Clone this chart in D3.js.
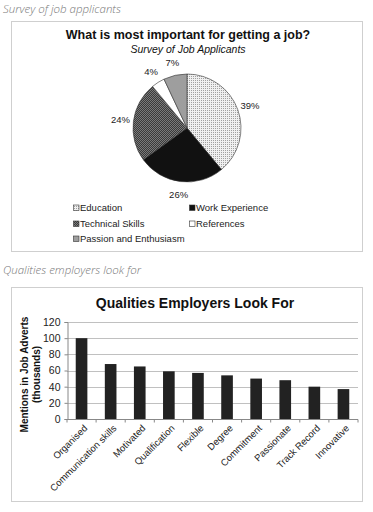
<!DOCTYPE html>
<html><head><meta charset="utf-8">
<script src="https://cdn.jsdelivr.net/npm/d3@7"></script>
<style>
body{margin:0;background:#fff;}
svg{display:block;}
</style></head><body>
<svg id="c" width="373" height="512"></svg>
<script>
const pieCategories = ["Education","Work Experience","Technical Skills","References","Passion and Enthusiasm"];
const pieValues = [39,26,24,4,7];
const barCategories = ["Organised","Communication skills","Motivated","Qualification","Flexible","Degree","Commitment","Passionate","Track Record","Innovative"];
const barValues = [100,68,65,59,57,54,50,48,40,37];
const yTicks = [0,20,40,60,80,100,120];

const svg = d3.select("#c");
const defs = svg.append("defs");
// patterns
const pEdu = defs.append("pattern").attr("id","pEdu").attr("width",2).attr("height",2).attr("patternUnits","userSpaceOnUse");
pEdu.append("rect").attr("width",2).attr("height",2).attr("fill","#f0f0f0");
pEdu.append("rect").attr("width",1).attr("height",1).attr("fill","#a0a0a0");
const pTech = defs.append("pattern").attr("id","pTech").attr("width",2).attr("height",2).attr("patternUnits","userSpaceOnUse");
pTech.append("rect").attr("width",2).attr("height",2).attr("fill","#7a7a7a");
pTech.append("rect").attr("width",1).attr("height",1).attr("fill","#3a3a3a");
pTech.append("rect").attr("x",1).attr("y",1).attr("width",1).attr("height",1).attr("fill","#3a3a3a");
const fills = ["url(#pEdu)","#111","url(#pTech)","#fff","#9e9e9e"];

const font = "Arial, 'Liberation Sans', sans-serif";
const capFont = "'Open Sans', sans-serif";

// captions
svg.append("text").attr("x",3).attr("y",12.5).attr("font-family",capFont).attr("font-style","italic").attr("font-weight",300)
  .attr("font-size",11.5).attr("fill","#777").text("Survey of job applicants");
svg.append("text").attr("x",3).attr("y",274).attr("font-family",capFont).attr("font-style","italic").attr("font-weight",300)
  .attr("font-size",11.5).attr("fill","#777").text("Qualities employers look for");

// pie box
svg.append("rect").attr("x",11.5).attr("y",21.5).attr("width",351).attr("height",230).attr("fill","#fff").attr("stroke","#cfcfcf");
svg.append("text").attr("x",188).attr("y",39).attr("text-anchor","middle").attr("font-family",font).attr("font-weight","bold")
  .attr("font-size",12.5).attr("fill","#111").text("What is most important for getting a job?");
svg.append("text").attr("x",188).attr("y",52.5).attr("text-anchor","middle").attr("font-family",font).attr("font-style","italic")
  .attr("font-size",10.5).attr("fill","#111").text("Survey of Job Applicants");

const cx = 187, cy = 128, R = 54;
const pie = d3.pie().sort(null).value(d=>d)(pieValues);
const arc = d3.arc().innerRadius(0).outerRadius(R);
const labelArc = d3.arc().innerRadius(67).outerRadius(67);
const g = svg.append("g").attr("transform",`translate(${cx},${cy})`);
g.selectAll("path").data(pie).join("path").attr("d",arc).attr("fill",(d,i)=>fills[i]).attr("stroke","#333").attr("stroke-width",0.6);
g.selectAll("text").data(pie).join("text")
  .attr("transform",d=>`translate(${labelArc.centroid(d)})`).attr("text-anchor","middle").attr("dy","0.35em")
  .attr("font-family",font).attr("font-size",9.5).attr("fill","#222").text(d=>d.value+"%");

// legend
const legPos = [[76,208],[192,208],[76,224],[192,224],[76,239]];
const leg = svg.append("g");
pieCategories.forEach((c,i)=>{
  const [x,y] = legPos[i];
  leg.append("rect").attr("x",x-2.5).attr("y",y-3).attr("width",5.5).attr("height",5.5).attr("fill",fills[i]).attr("stroke","#333").attr("stroke-width",0.6);
  leg.append("text").attr("x",x+4).attr("y",y).attr("dy","0.35em").attr("font-family",font).attr("font-size",9.5).attr("fill","#222").text(c);
});

// bar box
svg.append("rect").attr("x",11.5).attr("y",287.5).attr("width",351).attr("height",214).attr("fill","#fff").attr("stroke","#cfcfcf");
svg.append("text").attr("x",195).attr("y",308).attr("text-anchor","middle").attr("font-family",font).attr("font-weight","bold")
  .attr("font-size",14).attr("fill","#111").text("Qualities Employers Look For");

const x0 = 67, x1 = 358, yTop = 322, yBot = 419;
const x = d3.scaleBand().domain(barCategories).range([x0,x1]).paddingInner(0.6).paddingOuter(0.3);
const y = d3.scaleLinear().domain([0,120]).range([yBot,yTop]);

// gridlines
svg.append("g").selectAll("line").data(yTicks.filter(t=>t>0)).join("line")
  .attr("x1",x0).attr("x2",x1).attr("y1",d=>Math.round(y(d))+0.5).attr("y2",d=>Math.round(y(d))+0.5).attr("stroke","#b0b0b0").attr("stroke-width",0.8);

// y axis
const yAx = svg.append("g").attr("transform",`translate(${x0+0.5},0)`)
  .call(d3.axisLeft(y).tickValues(yTicks).tickSize(3).tickPadding(4));
yAx.select(".domain").attr("stroke","#888");
yAx.selectAll(".tick line").attr("stroke","#888");
yAx.selectAll("text").attr("font-family",font).attr("font-size",10.5).attr("fill","#222");

// bars
svg.append("g").selectAll("rect").data(barValues).join("rect")
  .attr("x",(d,i)=>x(barCategories[i])).attr("width",x.bandwidth())
  .attr("y",d=>y(d)).attr("height",d=>yBot-y(d)).attr("fill","#222");

// x axis
const xAx = svg.append("g").attr("transform",`translate(0,${yBot+0.5})`);
xAx.append("line").attr("x1",x0).attr("x2",x1).attr("stroke","#888");
const bounds = d3.range(barCategories.length+1).map(i=>x0 + i*(x1-x0)/barCategories.length);
xAx.selectAll("line.tk").data(bounds).join("line").attr("class","tk").attr("x1",d=>d).attr("x2",d=>d).attr("y1",0).attr("y2",3).attr("stroke","#888");
xAx.selectAll("text").data(barCategories).join("text")
  .attr("transform",d=>`translate(${x(d)+x.bandwidth()/2+4},${7}) rotate(-45)`)
  .attr("text-anchor","end").attr("dy","0.35em").attr("font-family",font).attr("font-size",9.5).attr("fill","#222").text(d=>d);

// y label
const yl = svg.append("text").attr("transform",`translate(28,${(yTop+yBot)/2+4}) rotate(-90)`).attr("text-anchor","middle")
  .attr("font-family",font).attr("font-weight","bold").attr("font-size",10).attr("fill","#111");
yl.append("tspan").attr("x",0).attr("dy",0).text("Mentions in Job Adverts");
yl.append("tspan").attr("x",0).attr("dy",12).text("(thousands)");
</script>
</body></html>
